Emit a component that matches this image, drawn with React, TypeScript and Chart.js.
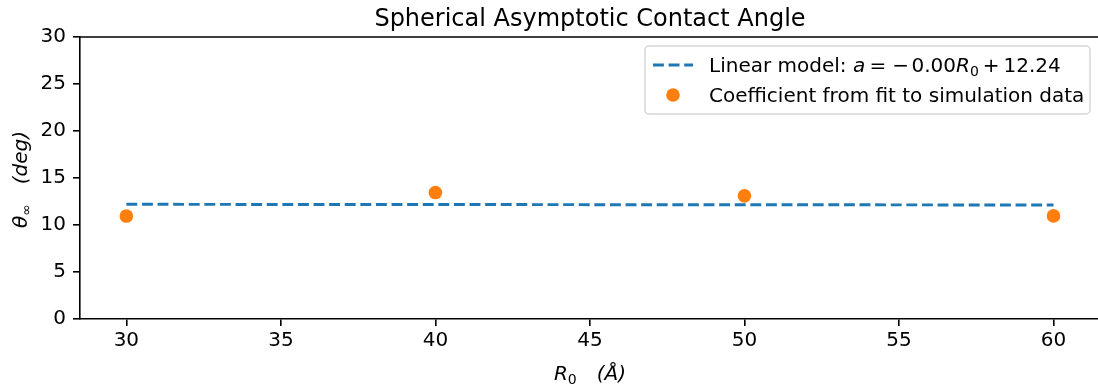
import React, { useEffect, useRef } from "react";
import { Chart, registerables } from "chart.js";

Chart.register(...registerables);

const FONT = "'DejaVu Sans', sans-serif";

const titleText = "Spherical Asymptotic Contact Angle";
const xTicks = [30, 35, 40, 45, 50, 55, 60];
const yTicks = [0, 5, 10, 15, 20, 25, 30];
const modelX = [30, 60];
const modelY = [12.2, 12.13];
const simX = [30, 40, 50, 60];
const simY = [10.95, 13.45, 13.1, 10.97];
const simLabel = "Coefficient from fit to simulation data";

type Seg = { t: string; it?: boolean; sub?: boolean; gap?: number };

const modelLabel: Seg[] = [
  { t: "Linear model: " },
  { t: "a", it: true },
  { t: "=", gap: 0.22 },
  { t: "\u2212", gap: 0.3 },
  { t: "0.00", gap: 0.12 },
  { t: "R", it: true },
  { t: "0", sub: true },
  { t: "+", gap: 0.2 },
  { t: "12.24", gap: 0.2 },
];
const xLabel: Seg[] = [
  { t: "R", it: true },
  { t: "0", sub: true },
  { t: "(\u00c5)", it: true, gap: 1 },
];
const yLabel: Seg[] = [
  { t: "\u03b8", it: true },
  { t: "\u221e", sub: true },
  { t: "(deg)", it: true, gap: 1 },
];

const BLUE = "#1f77b4";
const ORANGE = "#ff7f0e";

function segFont(s: Seg, size: number) {
  const sz = s.sub ? size * 0.7 : size;
  return `${s.it ? "italic " : ""}${sz}px ${FONT}`;
}

function richWidth(ctx: CanvasRenderingContext2D, segs: Seg[], size: number) {
  let w = 0;
  for (const s of segs) {
    ctx.font = segFont(s, size);
    w += (s.gap || 0) * size + ctx.measureText(s.t).width;
  }
  return w;
}

function drawRich(
  ctx: CanvasRenderingContext2D,
  segs: Seg[],
  x: number,
  y: number,
  size: number,
  align: "left" | "center"
) {
  const total = richWidth(ctx, segs, size);
  let cx = align === "center" ? x - total / 2 : x;
  ctx.textAlign = "left";
  ctx.textBaseline = "alphabetic";
  ctx.fillStyle = "#000";
  for (const s of segs) {
    cx += (s.gap || 0) * size;
    ctx.font = segFont(s, size);
    ctx.fillText(s.t, cx, y + (s.sub ? size * 0.2 : 0));
    cx += ctx.measureText(s.t).width;
  }
}

const decorPlugin = {
  id: "decor",
  afterDraw(chart: any) {
    const ctx: CanvasRenderingContext2D = chart.ctx;
    const a = chart.chartArea;
    ctx.save();
    // top spine
    ctx.strokeStyle = "#000";
    ctx.lineWidth = 1.6;
    ctx.beginPath();
    ctx.moveTo(a.left - 0.8, a.top);
    ctx.lineTo(a.right, a.top);
    ctx.stroke();

    // title
    ctx.font = `24px ${FONT}`;
    ctx.fillStyle = "#000";
    ctx.textAlign = "center";
    ctx.textBaseline = "alphabetic";
    ctx.fillText(titleText, 590, 26);

    // axis labels
    drawRich(ctx, xLabel, 590, 380, 20, "center");
    ctx.save();
    ctx.translate(27, 179.5);
    ctx.rotate(-Math.PI / 2);
    drawRich(ctx, yLabel, 0, 0, 20, "center");
    ctx.restore();

    // legend
    const bx = 645, by = 46, bw = 445, bh = 68, r = 4;
    ctx.beginPath();
    ctx.moveTo(bx + r, by);
    ctx.arcTo(bx + bw, by, bx + bw, by + bh, r);
    ctx.arcTo(bx + bw, by + bh, bx, by + bh, r);
    ctx.arcTo(bx, by + bh, bx, by, r);
    ctx.arcTo(bx, by, bx + bw, by, r);
    ctx.closePath();
    ctx.fillStyle = "rgba(255,255,255,0.8)";
    ctx.fill();
    ctx.strokeStyle = "rgba(204,204,204,0.8)";
    ctx.lineWidth = 1.5;
    ctx.stroke();

    ctx.strokeStyle = BLUE;
    ctx.lineWidth = 2.96;
    ctx.setLineDash([10.9, 4.7]);
    ctx.beginPath();
    ctx.moveTo(653, 65);
    ctx.lineTo(693, 65);
    ctx.stroke();
    ctx.setLineDash([]);

    ctx.fillStyle = ORANGE;
    ctx.beginPath();
    ctx.arc(673, 95, 6.8, 0, Math.PI * 2);
    ctx.fill();

    drawRich(ctx, modelLabel, 709, 72, 20, "left");
    drawRich(ctx, [{ t: simLabel }], 709, 102, 20, "left");
    ctx.restore();
  },
};

export default function App() {
  const ref = useRef<HTMLCanvasElement | null>(null);
  useEffect(() => {
    if (!ref.current) return;
    const chart = new Chart(ref.current, {
      type: "scatter",
      data: {
        datasets: [
          {
            label: simLabel,
            data: simX.map((x, i) => ({ x, y: simY[i] })),
            backgroundColor: ORANGE,
            borderWidth: 0,
            pointRadius: 6.8,
            pointHoverRadius: 6.8,
            order: 0,
          },
          {
            label: "Linear model",
            data: modelX.map((x, i) => ({ x, y: modelY[i] })),
            showLine: true,
            borderColor: BLUE,
            borderWidth: 2.96,
            borderDash: [10.9, 4.7],
            pointRadius: 0,
            pointHoverRadius: 0,
            order: 1,
          } as any,
        ],
      },
      options: {
        responsive: false,
        animation: false,
        devicePixelRatio: 1,
        layout: { autoPadding: false, padding: { top: 37, right: 0, left: 0, bottom: 0 } },
        plugins: {
          legend: { display: false },
          tooltip: { enabled: false },
          title: { display: false },
        },
        scales: {
          x: {
            type: "linear",
            min: 28.5,
            max: 61.44,
            afterBuildTicks: (s: any) => {
              s.ticks = xTicks.map((v) => ({ value: v }));
            },
            afterFit: (s: any) => {
              s.height = 69;
              s.paddingLeft = 0;
              s.paddingRight = 0;
            },
            grid: {
              drawOnChartArea: false,
              drawTicks: true,
              tickLength: 7,
              lineWidth: 1.6,
              tickWidth: 1.6,
              tickColor: "#000",
              color: "#000",
            },
            border: { display: true, color: "#000", width: 1.6 },
            ticks: {
              color: "#000",
              font: { family: FONT, size: 20 },
              padding: 3,
              maxRotation: 0,
              autoSkip: false,
              callback: (v: any) => String(v),
            },
          },
          y: {
            type: "linear",
            min: 0,
            max: 30,
            afterBuildTicks: (s: any) => {
              s.ticks = yTicks.map((v) => ({ value: v }));
            },
            afterFit: (s: any) => {
              s.width = 80;
              s.paddingTop = 0;
              s.paddingBottom = 0;
            },
            grid: {
              drawOnChartArea: false,
              drawTicks: true,
              tickLength: 7,
              lineWidth: 1.6,
              tickWidth: 1.6,
              tickColor: "#000",
              color: "#000",
            },
            border: { display: true, color: "#000", width: 1.6 },
            ticks: {
              color: "#000",
              font: { family: FONT, size: 20 },
              padding: 7,
              autoSkip: false,
              callback: (v: any) => String(v),
            },
          },
        },
      },
      plugins: [decorPlugin],
    });
    return () => chart.destroy();
  }, []);
  return (
    <div style={{ position: "fixed", left: 0, top: 0, width: 1098, height: 388, background: "#fff" }}>
      <canvas ref={ref} width={1098} height={388} style={{ display: "block" }} />
    </div>
  );
}
